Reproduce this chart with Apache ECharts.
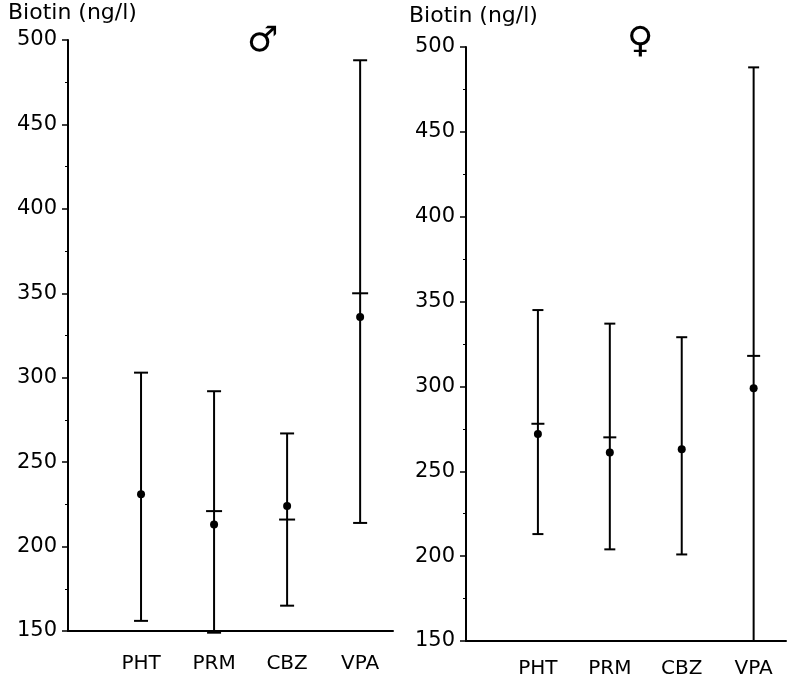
<!DOCTYPE html>
<html>
<head>
<meta charset="utf-8">
<script src="https://cdn.jsdelivr.net/npm/echarts@6/dist/echarts.min.js"></script>
<style>
  html, body { margin: 0; padding: 0; background: #fff; }
  #chart { width: 789px; height: 688px; }
</style>
</head>
<body>
<div id="chart"></div>
<script>
// drugs on the x axis
var categories = ['PHT', 'PRM', 'CBZ', 'VPA'];
var yTicks = [150, 200, 250, 300, 350, 400, 450, 500];

// men: range, mean (dot), median (crossbar)
var maleLow = [156, 149, 165, 214];
var maleHigh = [303, 292, 267, 488];
var maleMean = [231, 213, 224, 336];
var maleMedian = [null, 221, 216, 350];

// women
var femaleLow = [213, 204, 201, 150];
var femaleHigh = [345, 337, 329, 488];
var femaleMean = [272, 261, 263, 299];
var femaleMedian = [278, 270, null, 318];

var font = 'DejaVu Sans';

function rangeData(low, high, med) {
    return categories.map(function (c, i) {
        return [i + 1, low[i], high[i], med[i] == null ? '-' : med[i]];
    });
}
function meanData(mean) {
    return categories.map(function (c, i) { return [i + 1, mean[i]]; });
}

function makeRender(capW, medW) {
    return function (params, api) {
        var x = api.value(0);
        var lo = api.coord([x, api.value(1)]);
        var hi = api.coord([x, api.value(2)]);
        var st = { stroke: '#000', lineWidth: 2 };
        var kids = [
            { type: 'line', shape: { x1: lo[0], y1: lo[1], x2: hi[0], y2: hi[1] }, style: st },
            { type: 'line', shape: { x1: hi[0] - capW / 2, y1: hi[1], x2: hi[0] + capW / 2, y2: hi[1] }, style: st },
            { type: 'line', shape: { x1: lo[0] - capW / 2, y1: lo[1], x2: lo[0] + capW / 2, y2: lo[1] }, style: st }
        ];
        var m = api.value(3);
        if (!isNaN(m)) {
            var p = api.coord([x, m]);
            kids.push({ type: 'line', shape: { x1: p[0] - medW / 2, y1: p[1], x2: p[0] + medW / 2, y2: p[1] }, style: st });
        }
        return { type: 'group', children: kids };
    };
}

function xAxis(idx, margin) {
    return {
        type: 'value', gridIndex: idx, min: 0, max: 4.45, interval: 1,
        axisLine: { lineStyle: { color: '#000', width: 2 } },
        axisTick: { show: false },
        splitLine: { show: false },
        axisLabel: {
            color: '#000', fontFamily: font, fontSize: 20, margin: margin,
            formatter: function (v) { return categories[v - 1] || ''; }
        }
    };
}
function yAxis(idx) {
    return {
        type: 'value', gridIndex: idx, min: yTicks[0], max: yTicks[yTicks.length - 1], interval: 50,
        axisLine: { show: true, lineStyle: { color: '#000', width: 2 } },
        axisTick: { show: true, length: 6, lineStyle: { color: '#000', width: 1.5 } },
        minorTick: { show: true, splitNumber: 2, length: 3, lineStyle: { color: '#000', width: 1 } },
        splitLine: { show: false },
        axisLabel: { color: '#000', fontFamily: font, fontSize: 21, margin: 11 }
    };
}

var myChart = echarts.init(document.getElementById('chart'));
myChart.setOption({
    backgroundColor: '#fff',
    animation: false,
    grid: [
        { left: 68, top: 40, width: 325, height: 591 },
        { left: 466, top: 47, width: 321, height: 594 }
    ],
    xAxis: [xAxis(0, 23), xAxis(1, 18)],
    yAxis: [yAxis(0), yAxis(1)],
    graphic: [
        { type: 'text', left: 8, top: 2, style: { text: 'Biotin (ng/l)', font: '22px ' + font, fill: '#000' } },
        { type: 'text', left: 409, top: 5, style: { text: 'Biotin (ng/l)', font: '22px ' + font, fill: '#000' } },
        { type: 'text', left: 247, top: 24, style: { text: '\u2642', font: 'bold 35px ' + font, fill: '#000' } },
        { type: 'text', left: 627, top: 25, style: { text: '\u2640', font: 'bold 36px ' + font, fill: '#000' } }
    ],
    series: [
        {
            type: 'custom', xAxisIndex: 0, yAxisIndex: 0,
            renderItem: makeRender(14, 16),
            encode: { x: 0, y: [1, 2, 3] },
            data: rangeData(maleLow, maleHigh, maleMedian)
        },
        {
            type: 'scatter', xAxisIndex: 0, yAxisIndex: 0, symbolSize: 8,
            itemStyle: { color: '#000', opacity: 1 }, data: meanData(maleMean)
        },
        {
            type: 'custom', xAxisIndex: 1, yAxisIndex: 1,
            renderItem: makeRender(11, 13),
            encode: { x: 0, y: [1, 2, 3] },
            data: rangeData(femaleLow, femaleHigh, femaleMedian)
        },
        {
            type: 'scatter', xAxisIndex: 1, yAxisIndex: 1, symbolSize: 8,
            itemStyle: { color: '#000', opacity: 1 }, data: meanData(femaleMean)
        }
    ]
});
window.addEventListener('resize', function () { myChart.resize(); });
</script>
</body>
</html>
